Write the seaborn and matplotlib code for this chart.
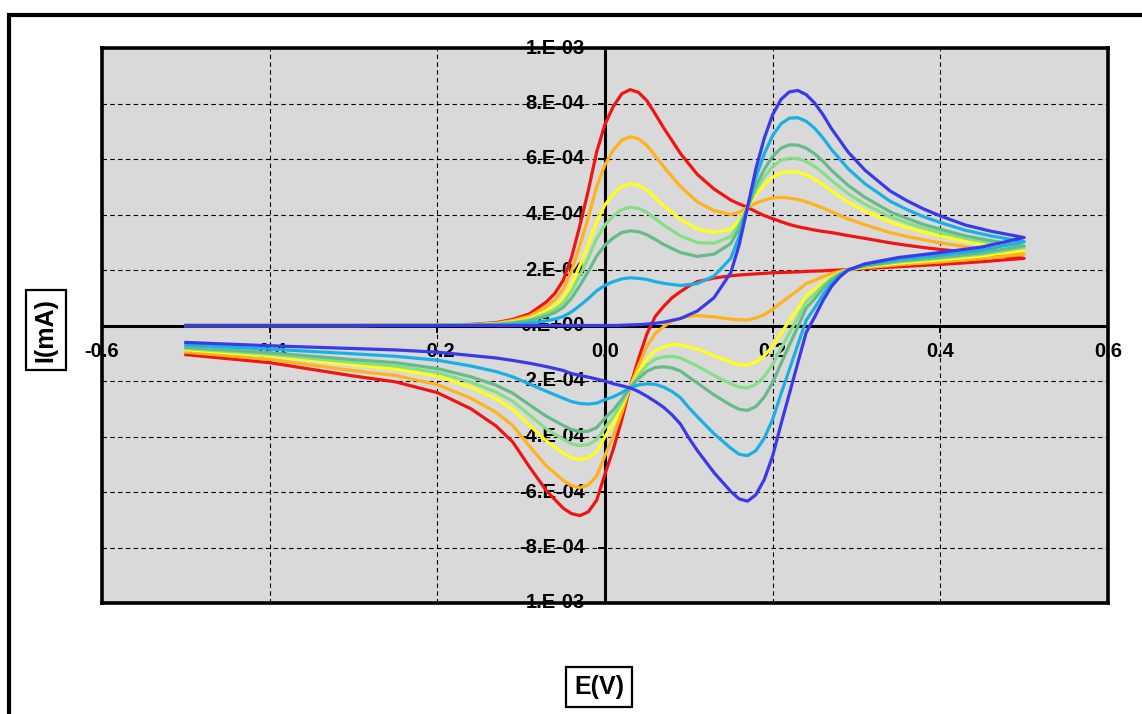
import numpy as np
import pandas as pd
import seaborn as sns
import matplotlib.pyplot as plt
from matplotlib.patches import Rectangle
from matplotlib.transforms import offset_copy

plt.rcParams['font.family'] = ['Liberation Sans', 'DejaVu Sans']

# Potential (V): forward sweep -0.5 -> 0.5, then return sweep 0.5 -> -0.5
E_fwd = [-0.50, -0.30, -0.20, -0.16, -0.13, -0.11, -0.09, -0.07, -0.06, -0.05,
         -0.04, -0.03, -0.02, -0.01, 0.00, 0.01, 0.02, 0.03, 0.04, 0.05,
         0.06, 0.07, 0.09, 0.11, 0.13, 0.15, 0.16, 0.17, 0.18, 0.19,
         0.20, 0.21, 0.22, 0.23, 0.24, 0.25, 0.26, 0.27, 0.29, 0.31,
         0.34, 0.36, 0.38, 0.40, 0.43, 0.46, 0.50]
E_rev = [0.50, 0.45, 0.40, 0.35, 0.31, 0.29, 0.28, 0.27, 0.26, 0.25,
         0.24, 0.23, 0.22, 0.21, 0.20, 0.19, 0.18, 0.17, 0.16, 0.15,
         0.13, 0.11, 0.10, 0.09, 0.08, 0.07, 0.06, 0.05, 0.04, 0.03,
         0.02, 0.01, 0.00, -0.01, -0.02, -0.03, -0.04, -0.05, -0.07, -0.09,
         -0.11, -0.13, -0.16, -0.20, -0.25, -0.30, -0.40, -0.50]

# Currents, in units of 1e-4
red_fwd = [0.00, 0.00, 0.01, 0.04, 0.10, 0.22, 0.42, 0.85, 1.15, 1.62,
           2.45, 3.60, 4.85, 6.25, 7.25, 7.90, 8.35, 8.50, 8.40, 8.10,
           7.62, 7.12, 6.20, 5.45, 4.92, 4.52, 4.38, 4.26, 4.10, 3.96,
           3.85, 3.74, 3.64, 3.56, 3.50, 3.44, 3.39, 3.35, 3.24, 3.14,
           2.98, 2.89, 2.81, 2.74, 2.65, 2.55, 2.42]
red_rev = [2.42, 2.30, 2.20, 2.12, 2.05, 2.02, 2.00, 1.99, 1.97, 1.96,
           1.95, 1.93, 1.92, 1.91, 1.90, 1.88, 1.86, 1.84, 1.82, 1.79,
           1.71, 1.58, 1.42, 1.22, 1.00, 0.69, 0.33, -0.30, -1.20, -2.20,
           -3.40, -4.45, -5.35, -6.30, -6.72, -6.85, -6.78, -6.58, -5.95, -5.10,
           -4.20, -3.62, -3.00, -2.42, -2.03, -1.82, -1.34, -1.05]

orange_fwd = [0.00, 0.00, 0.01, 0.03, 0.08, 0.18, 0.34, 0.68, 0.92, 1.30,
              1.96, 2.88, 3.88, 5.00, 5.80, 6.32, 6.68, 6.80, 6.73, 6.49,
              6.11, 5.72, 5.01, 4.46, 4.14, 4.00, 4.08, 4.26, 4.41, 4.52,
              4.60, 4.62, 4.59, 4.54, 4.46, 4.35, 4.23, 4.10, 3.84, 3.63,
              3.35, 3.21, 3.09, 2.98, 2.84, 2.72, 2.57]
orange_rev = [2.57, 2.41, 2.29, 2.19, 2.08, 2.02, 1.95, 1.87, 1.76, 1.63,
              1.51, 1.27, 1.05, 0.82, 0.58, 0.39, 0.27, 0.20, 0.21, 0.23,
              0.31, 0.36, 0.33, 0.27, 0.16, -0.04, -0.29, -0.75, -1.44, -2.21,
              -3.15, -3.98, -4.68, -5.43, -5.75, -5.84, -5.77, -5.58, -5.06, -4.35,
              -3.61, -3.13, -2.62, -2.13, -1.80, -1.63, -1.22, -0.96]

yellow_fwd = [0.00, 0.00, 0.01, 0.02, 0.06, 0.13, 0.25, 0.51, 0.69, 0.97,
              1.47, 2.16, 2.91, 3.75, 4.35, 4.74, 5.01, 5.11, 5.05, 4.88,
              4.60, 4.32, 3.82, 3.48, 3.35, 3.47, 3.79, 4.26, 4.72, 5.08,
              5.35, 5.50, 5.55, 5.53, 5.43, 5.27, 5.07, 4.85, 4.44, 4.12,
              3.73, 3.53, 3.37, 3.22, 3.04, 2.89, 2.72]
yellow_rev = [2.72, 2.51, 2.37, 2.25, 2.12, 2.01, 1.90, 1.75, 1.54, 1.30,
              1.07, 0.62, 0.17, -0.27, -0.74, -1.09, -1.32, -1.43, -1.41, -1.32,
              -1.09, -0.85, -0.77, -0.69, -0.69, -0.77, -0.90, -1.20, -1.67, -2.22,
              -2.91, -3.51, -4.01, -4.55, -4.77, -4.83, -4.76, -4.60, -4.16, -3.60,
              -3.02, -2.64, -2.23, -1.83, -1.57, -1.42, -1.09, -0.87]

lgreen_fwd = [0.00, 0.00, 0.01, 0.02, 0.05, 0.11, 0.21, 0.43, 0.58, 0.81,
              1.23, 1.80, 2.43, 3.13, 3.63, 3.95, 4.18, 4.26, 4.22, 4.08,
              3.85, 3.62, 3.23, 2.99, 2.96, 3.21, 3.64, 4.26, 4.88, 5.36,
              5.73, 5.95, 6.03, 6.02, 5.91, 5.73, 5.50, 5.23, 4.75, 4.37,
              3.92, 3.70, 3.51, 3.35, 3.14, 2.98, 2.80]
lgreen_rev = [2.80, 2.57, 2.42, 2.29, 2.14, 2.01, 1.88, 1.70, 1.44, 1.13,
              0.85, 0.29, -0.27, -0.82, -1.40, -1.84, -2.12, -2.25, -2.22, -2.10,
              -1.80, -1.46, -1.32, -1.17, -1.11, -1.13, -1.21, -1.43, -1.79, -2.23,
              -2.79, -3.28, -3.68, -4.12, -4.29, -4.33, -4.26, -4.10, -3.72, -3.23,
              -2.73, -2.40, -2.04, -1.69, -1.46, -1.33, -1.04, -0.83]

mgreen_fwd = [0.00, 0.00, 0.00, 0.02, 0.04, 0.09, 0.17, 0.34, 0.46, 0.65,
              0.98, 1.44, 1.94, 2.50, 2.90, 3.16, 3.35, 3.41, 3.38, 3.27,
              3.10, 2.92, 2.63, 2.49, 2.57, 2.95, 3.49, 4.26, 5.03, 5.63,
              6.10, 6.39, 6.51, 6.50, 6.39, 6.19, 5.92, 5.60, 5.05, 4.62,
              4.10, 3.86, 3.64, 3.47, 3.23, 3.06, 2.87]
mgreen_rev = [2.87, 2.62, 2.46, 2.32, 2.15, 2.01, 1.85, 1.64, 1.33, 0.96,
              0.63, -0.04, -0.70, -1.37, -2.06, -2.58, -2.92, -3.06, -3.02, -2.87,
              -2.50, -2.07, -1.86, -1.64, -1.53, -1.49, -1.51, -1.65, -1.91, -2.23,
              -2.66, -3.04, -3.34, -3.68, -3.81, -3.82, -3.75, -3.60, -3.27, -2.86,
              -2.44, -2.15, -1.85, -1.55, -1.34, -1.23, -0.98, -0.79]

lblue_fwd = [0.00, 0.00, 0.00, 0.01, 0.02, 0.04, 0.08, 0.17, 0.23, 0.32,
             0.49, 0.72, 0.97, 1.25, 1.45, 1.58, 1.68, 1.72, 1.70, 1.66,
             1.58, 1.52, 1.44, 1.51, 1.78, 2.42, 3.20, 4.26, 5.34, 6.19,
             6.85, 7.27, 7.47, 7.49, 7.36, 7.11, 6.76, 6.35, 5.65, 5.11,
             4.48, 4.18, 3.92, 3.71, 3.43, 3.23, 3.02]
lblue_rev = [3.02, 2.72, 2.54, 2.38, 2.19, 2.00, 1.80, 1.52, 1.11, 0.63,
             0.19, -0.69, -1.58, -2.46, -3.38, -4.06, -4.51, -4.69, -4.64, -4.42,
             -3.90, -3.28, -2.96, -2.60, -2.38, -2.22, -2.12, -2.10, -2.14, -2.24,
             -2.42, -2.57, -2.67, -2.80, -2.83, -2.81, -2.74, -2.62, -2.37, -2.11,
             -1.85, -1.66, -1.46, -1.25, -1.11, -1.02, -0.85, -0.70]

blue_fwd = [0.00, 0.00, 0.00, 0.00, 0.00, 0.00, 0.00, 0.00, 0.00, 0.00,
            0.00, 0.00, 0.00, 0.00, 0.00, 0.00, 0.01, 0.02, 0.03, 0.05,
            0.08, 0.12, 0.25, 0.52, 1.00, 1.90, 2.90, 4.26, 5.65, 6.75,
            7.60, 8.15, 8.42, 8.47, 8.32, 8.02, 7.60, 7.10, 6.25, 5.60,
            4.85, 4.50, 4.20, 3.95, 3.62, 3.40, 3.17]
blue_rev = [3.17, 2.83, 2.63, 2.45, 2.22, 2.00, 1.75, 1.40, 0.90, 0.30,
            -0.25, -1.35, -2.45, -3.55, -4.70, -5.55, -6.10, -6.33, -6.25, -5.98,
            -5.30, -4.50, -4.05, -3.55, -3.22, -2.95, -2.74, -2.55, -2.38, -2.25,
            -2.17, -2.10, -2.00, -1.93, -1.86, -1.80, -1.73, -1.62, -1.48, -1.36,
            -1.26, -1.17, -1.08, -0.96, -0.88, -0.83, -0.73, -0.61]

curves = [
    ("red", red_fwd, red_rev),
    ("orange", orange_fwd, orange_rev),
    ("yellow", yellow_fwd, yellow_rev),
    ("light green", lgreen_fwd, lgreen_rev),
    ("green", mgreen_fwd, mgreen_rev),
    ("light blue", lblue_fwd, lblue_rev),
    ("blue", blue_fwd, blue_rev),
]
palette = ['#f01414', '#ffb21a', '#ffff1a', '#85e085', '#66bb8a', '#1ab0e6', '#3a3ae8']

x_ticks = [-0.6, -0.4, -0.2, 0.0, 0.2, 0.4, 0.6]
x_tick_labels = ['-0.6', '-0.4', '-0.2', '0.0', '0.2', '0.4', '0.6']
y_ticks = [1e-3, 8e-4, 6e-4, 4e-4, 2e-4, 0.0, -2e-4, -4e-4, -6e-4, -8e-4, -1e-3]
y_tick_labels = ['1.E-03', '8.E-04', '6.E-04', '4.E-04', '2.E-04', '0.E+00',
                 '-2.E-04', '-4.E-04', '-6.E-04', '-8.E-04', '1.E-03']

# long table, one loop per curve in sweep order
parts = []
for name, fwd, rev in curves:
    parts.append(pd.DataFrame({
        'E': E_fwd + E_rev,
        'I': np.array(fwd + rev) * 1e-4,
        'curve': name,
    }))
df = pd.concat(parts, ignore_index=True)

fig = plt.figure(figsize=(11.42, 7.14), dpi=100)
ax = fig.add_axes([102 / 1142, 111 / 714, 1006 / 1142, 555 / 714])
ax.set_facecolor('#d9d9d9')

sns.lineplot(data=df, x='E', y='I', hue='curve', palette=palette,
             sort=False, estimator=None, linewidth=2.3, legend=False,
             ax=ax, zorder=3)

ax.set_xlim(-0.6, 0.6)
ax.set_ylim(-1e-3, 1e-3)
ax.set_xticks([t for t in x_ticks if abs(t) not in (0.0, 0.6)])
ax.set_yticks([t for t in y_ticks if abs(t) not in (0.0, 1e-3)])
ax.tick_params(length=0, labelbottom=False, labelleft=False)
ax.grid(True, color='k', linewidth=0.8, linestyle=(0, (4, 3)))
ax.set_xlabel('')
ax.set_ylabel('')
for s in ax.spines.values():
    s.set_linewidth(2.6)
    s.set_color('k')

# crossing axes through the origin
ax.axhline(0, color='k', linewidth=2.2, zorder=2)
ax.axvline(0, color='k', linewidth=2.2, zorder=2)
ax.plot(np.zeros(len(y_ticks)), y_ticks, ls='none', marker=0, ms=5,
        mew=1.4, color='k', zorder=2, clip_on=False)
ax.plot(x_ticks, np.zeros(len(x_ticks)), ls='none', marker=3, ms=5,
        mew=1.4, color='k', zorder=2, clip_on=False)

lab_kw = dict(fontsize=14.5, fontweight='bold', color='k', zorder=1, clip_on=False)
tx = offset_copy(ax.transData, fig=fig, x=0, y=-26, units='dots')
for v, s in zip(x_ticks, x_tick_labels):
    ax.text(v, 0, s, transform=tx, ha='center', va='center', **lab_kw)
ty = offset_copy(ax.transData, fig=fig, x=-20, y=0, units='dots')
for v, s in zip(y_ticks, y_tick_labels):
    ax.text(0, v, s, transform=ty, ha='right', va='center', **lab_kw)

box = dict(boxstyle='square,pad=0.32', fc='white', ec='black', lw=1.6)
fig.text(45.5 / 1142, 1 - 330 / 714, 'I(mA)', rotation=90, ha='center',
         va='center', fontsize=18, fontweight='bold', bbox=box)
fig.text(599 / 1142, 1 - 687 / 714, 'E(V)', ha='center', va='center',
         fontsize=18, fontweight='bold', bbox=box)

# outer chart frame
fig.add_artist(Rectangle((8.5 / 1142, -0.05), 1.1, 1.05 - 15 / 714,
                         transform=fig.transFigure, fill=False,
                         ec='black', lw=3, clip_on=False))

fig.savefig('out.png', dpi=100)
